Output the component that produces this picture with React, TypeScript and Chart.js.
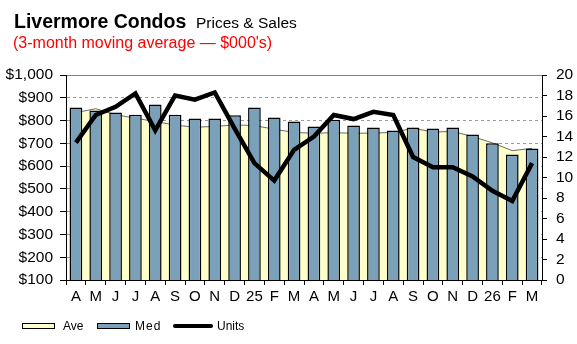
import React, { useEffect, useRef } from 'react';
import { Chart, registerables } from 'chart.js';

Chart.register(...registerables);

const FONT = "'Liberation Sans', Arial, Helvetica, sans-serif";

const categories = ['A', 'M', 'J', 'J', 'A', 'S', 'O', 'N', 'D', '25', 'F', 'M', 'A', 'M', 'J', 'J', 'A', 'S', 'O', 'N', 'D', '26', 'F', 'M'];
const aveValues = [835, 852, 826, 810, 796, 780, 771, 774, 781, 778, 762, 748, 744, 747, 744, 745, 748, 766, 750, 752, 730, 702, 668, 678];
const medValues = [857, 844, 835, 826, 870, 826, 809, 809, 823, 857, 813, 796, 774, 804, 778, 769, 756, 769, 765, 769, 739, 700, 651, 677];
const unitValues = [13.4, 16.1, 16.9, 18.2, 14.6, 18.0, 17.6, 18.3, 14.8, 11.4, 9.7, 12.7, 14.0, 16.1, 15.7, 16.4, 16.1, 12.0, 11.0, 11.0, 10.1, 8.7, 7.7, 11.4];

const priceMin = 100;
const priceMax = 1000;
const priceStep = 100;
const unitMin = 0;
const unitMax = 20;
const unitStep = 2;

const AVE_FILL = '#FFFFCC';
const MED_FILL = '#7BA0B9';

export default function App() {
  const ref = useRef<HTMLCanvasElement>(null);

  useEffect(() => {
    Chart.defaults.font.family = FONT;
    const chart = new Chart(ref.current as HTMLCanvasElement, {
      type: 'bar',
      data: {
        labels: categories,
        datasets: [
          {
            type: 'line',
            label: 'Ave',
            data: aveValues,
            yAxisID: 'y',
            fill: 'origin',
            backgroundColor: AVE_FILL,
            borderColor: '#6a6a6a',
            borderWidth: 1,
            pointRadius: 0,
            tension: 0,
            order: 3,
          } as any,
          {
            type: 'bar',
            label: 'Med',
            data: medValues,
            yAxisID: 'y',
            backgroundColor: MED_FILL,
            borderColor: '#000',
            borderWidth: 1.5,
            barPercentage: 0.64,
            categoryPercentage: 1,
            order: 2,
          },
          {
            type: 'line',
            label: 'Units',
            data: unitValues,
            yAxisID: 'y1',
            fill: false,
            borderColor: '#000',
            borderWidth: 4.5,
            pointRadius: 0,
            tension: 0,
            borderJoinStyle: 'miter',
            order: 1,
          } as any,
        ],
      },
      options: {
        responsive: false,
        animation: false,
        devicePixelRatio: 1,
        layout: { padding: { top: 75, left: 0, right: 0, bottom: 0 } },
        plugins: {
          legend: { display: false },
          tooltip: { enabled: false },
          title: { display: false },
        },
        scales: {
          x: {
            type: 'category',
            offset: true,
            grid: {
              display: true,
              offset: true,
              drawOnChartArea: false,
              drawTicks: true,
              tickLength: 5,
              color: '#000',
              tickColor: '#000',
            },
            border: { display: true, color: '#000', width: 1 },
            ticks: {
              autoSkip: false,
              maxRotation: 0,
              minRotation: 0,
              padding: 3,
              color: '#000',
              font: { size: 15, family: FONT },
            },
            afterFit: (s: any) => {
              s.height = 64;
            },
          },
          y: {
            type: 'linear',
            position: 'left',
            min: priceMin,
            max: priceMax,
            grid: {
              display: true,
              drawTicks: true,
              tickLength: 6,
              tickColor: '#000',
              color: (ctx: any) => (ctx.tick && ctx.tick.value === priceMax ? '#808080' : '#9a9a9a'),
              lineWidth: 1,
            },
            border: {
              display: true,
              color: '#000',
              width: 1,
              dash: (ctx: any) => (!ctx.tick || ctx.tick.value === priceMax ? [] : [3, 3]),
            } as any,
            ticks: {
              stepSize: priceStep,
              autoSkip: false,
              padding: 7,
              color: '#000',
              font: { size: 15.5, family: FONT },
              callback: (v: any) => '$' + Number(v).toLocaleString('en-US'),
            },
            afterFit: (s: any) => {
              s.width = 66;
            },
          },
          y1: {
            type: 'linear',
            position: 'right',
            min: unitMin,
            max: unitMax,
            grid: {
              display: true,
              drawOnChartArea: false,
              drawTicks: true,
              tickLength: 5,
              tickColor: '#000',
              color: '#000',
            },
            border: { display: true, color: '#000', width: 1 },
            ticks: {
              stepSize: unitStep,
              autoSkip: false,
              padding: 9,
              color: '#000',
              font: { size: 15.5, family: FONT },
            },
            afterFit: (s: any) => {
              s.width = 35;
            },
          },
        },
      },
    });
    return () => chart.destroy();
  }, []);

  const abs = (style: React.CSSProperties): React.CSSProperties => ({
    position: 'absolute',
    whiteSpace: 'nowrap',
    margin: 0,
    padding: 0,
    ...style,
  });

  return (
    <div
      style={{
        position: 'fixed',
        left: 0,
        top: 0,
        width: 577,
        height: 344,
        background: '#fff',
        fontFamily: FONT,
        overflow: 'hidden',
      }}
    >
      <canvas ref={ref} width={577} height={344} style={{ position: 'absolute', left: 0, top: 0 }} />
      <div style={abs({ left: 14, top: 11.8, fontSize: 19.5, lineHeight: '19.5px', fontWeight: 'bold', color: '#000' })}>
        Livermore Condos
      </div>
      <div style={abs({ left: 196, top: 15.2, fontSize: 15.5, lineHeight: '15.5px', color: '#000' })}>
        Prices &amp; Sales
      </div>
      <div style={abs({ left: 13, top: 34.8, fontSize: 16, lineHeight: '16px', color: '#ff0000' })}>
        (3-month moving average — $000's)
      </div>

      <div
        style={abs({
          left: 21.5,
          top: 322.5,
          width: 33,
          height: 6,
          boxSizing: 'border-box',
          background: AVE_FILL,
          border: '1px solid #000',
        })}
      />
      <div style={abs({ left: 63, top: 319.8, fontSize: 12, lineHeight: '12px', color: '#000' })}>Ave</div>
      <div
        style={abs({
          left: 96.5,
          top: 322.5,
          width: 33,
          height: 6,
          boxSizing: 'border-box',
          background: MED_FILL,
          border: '1px solid #000',
        })}
      />
      <div style={abs({ left: 135, top: 319.8, fontSize: 12, lineHeight: '12px', color: '#000', letterSpacing: 1 })}>
        Med
      </div>
      <div style={abs({ left: 173, top: 323.5, width: 40, height: 4, background: '#000', borderRadius: 2 })} />
      <div style={abs({ left: 217, top: 319.8, fontSize: 12, lineHeight: '12px', color: '#000' })}>Units</div>
    </div>
  );
}
